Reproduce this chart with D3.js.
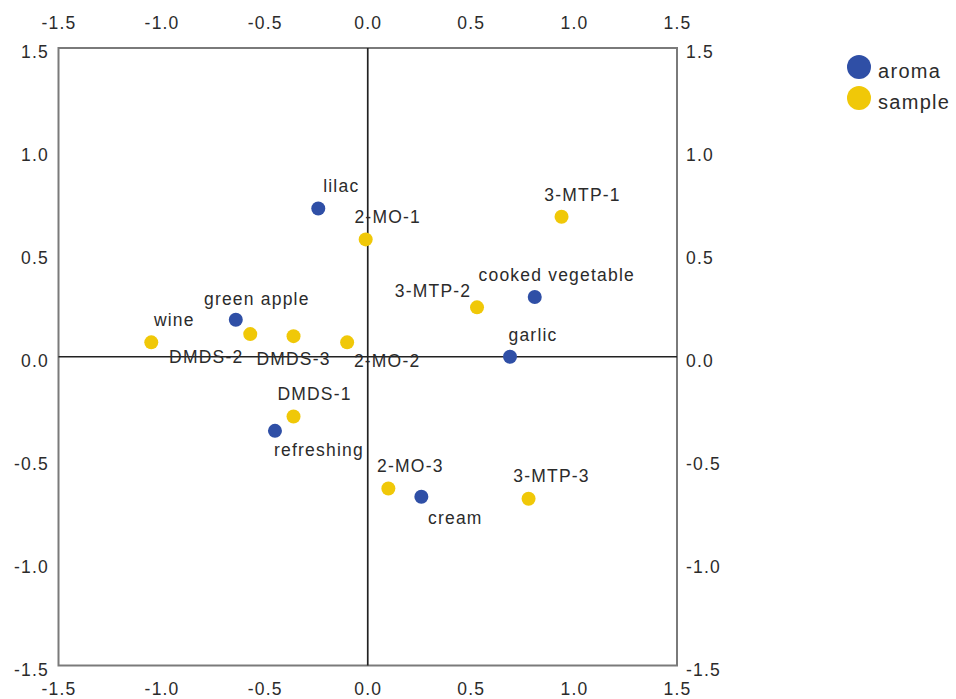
<!DOCTYPE html>
<html>
<head>
<meta charset="utf-8">
<script src="https://cdn.jsdelivr.net/npm/d3@7"></script>
<style>
  body { margin: 0; background: #fff; }
  text { font-family: "Liberation Sans", Arial, sans-serif; fill: #2b2b2b; }
</style>
</head>
<body>
<svg class="chart"></svg>
<script>

// point names, groups and coordinates (dimension 1, dimension 2)
var names = ["lilac", "2-MO-1", "3-MTP-1", "cooked vegetable", "3-MTP-2", "garlic",
             "green apple", "wine", "DMDS-2", "DMDS-3", "2-MO-2", "DMDS-1",
             "refreshing", "2-MO-3", "cream", "3-MTP-3"];
var groups = ["aroma", "sample", "sample", "aroma", "sample", "aroma",
              "aroma", "sample", "sample", "sample", "sample", "sample",
              "aroma", "sample", "aroma", "sample"];
var dim1 = [-0.24, -0.01, 0.94, 0.81, 0.53, 0.69,
            -0.64, -1.05, -0.57, -0.36, -0.10, -0.36,
            -0.45, 0.10, 0.26, 0.78];
var dim2 = [0.72, 0.57, 0.68, 0.29, 0.24, 0.00,
            0.18, 0.07, 0.11, 0.10, 0.07, -0.29,
            -0.36, -0.64, -0.68, -0.69];

var tickValues = [-1.5, -1.0, -0.5, 0.0, 0.5, 1.0, 1.5];
var legendGroups = ["aroma", "sample"];

// where each label sits relative to its point (pixels)
var labelOffset = {
  "lilac": [23, -23], "2-MO-1": [22, -23], "3-MTP-1": [21, -22],
  "cooked vegetable": [22, -22], "3-MTP-2": [-44, -16], "garlic": [23, -22],
  "green apple": [21, -21], "wine": [23, -22], "DMDS-2": [-44, 23],
  "DMDS-3": [0, 23], "2-MO-2": [40, 19], "DMDS-1": [21, -23],
  "refreshing": [44, 19], "2-MO-3": [22, -23], "cream": [34, 21],
  "3-MTP-3": [23, -23]
};

var colors = { aroma: "#2f4fa6", sample: "#f0c808" };

var data = names.map(function(n, i) {
  return { name: n, group: groups[i], x: dim1[i], y: dim2[i] };
});

var chart = d3.select('.chart')
  .attr('width', 956)
  .attr('height', 699);

var x = d3.scaleLinear().domain([-1.5, 1.5]).range([58.5, 677]);
var y = d3.scaleLinear().domain([-1.5, 1.5]).range([665.5, 48]);

var fmt = function(d) { return d3.format(".1f")(d).replace("\u2212", "-"); };

function styleAxis(g) {
  g.select('.domain').remove();
  g.selectAll('.tick line').remove();
  g.selectAll('.tick text')
    .style('font-size', '17.5px')
    .style('letter-spacing', '1.2px')
    .attr('fill', '#2b2b2b');
}

chart.append('g')
  .attr('transform', 'translate(0,' + 32 + ')')
  .call(d3.axisTop(x).tickValues(tickValues).tickFormat(fmt).tickSize(0))
  .call(styleAxis);

chart.append('g')
  .attr('transform', 'translate(0,' + 680 + ')')
  .call(d3.axisBottom(x).tickValues(tickValues).tickFormat(fmt).tickSize(0))
  .call(styleAxis);

chart.append('g')
  .attr('transform', 'translate(' + 49 + ',4)')
  .call(d3.axisLeft(y).tickValues(tickValues).tickFormat(fmt).tickSize(0).tickPadding(0))
  .call(styleAxis);

chart.append('g')
  .attr('transform', 'translate(' + 686 + ',4)')
  .call(d3.axisRight(y).tickValues(tickValues).tickFormat(fmt).tickSize(0).tickPadding(0))
  .call(styleAxis);

// frame
chart.append('rect')
  .attr('x', x(-1.5))
  .attr('y', y(1.5))
  .attr('width', x(1.5) - x(-1.5))
  .attr('height', y(-1.5) - y(1.5))
  .attr('fill', 'none')
  .attr('stroke', '#7a7a7a')
  .attr('stroke-width', 2);

// zero reference lines
chart.append('line')
  .attr('x1', x(0)).attr('x2', x(0))
  .attr('y1', y(1.5)).attr('y2', y(-1.5))
  .attr('stroke', '#222')
  .attr('stroke-width', 1.7);

chart.append('line')
  .attr('x1', x(-1.5)).attr('x2', x(1.5))
  .attr('y1', y(0)).attr('y2', y(0))
  .attr('stroke', '#222')
  .attr('stroke-width', 1.7);

// points
chart.append('g').selectAll('circle')
  .data(data)
  .enter().append('circle')
  .attr('cx', function(d) { return x(d.x); })
  .attr('cy', function(d) { return y(d.y); })
  .attr('r', 7)
  .attr('fill', function(d) { return colors[d.group]; });

// labels
chart.append('g').selectAll('text')
  .data(data)
  .enter().append('text')
  .attr('x', function(d) { return x(d.x) + labelOffset[d.name][0]; })
  .attr('y', function(d) { return y(d.y) + labelOffset[d.name][1]; })
  .attr('dy', '0.35em')
  .style('text-anchor', 'middle')
  .style('font-size', '17.5px')
  .style('letter-spacing', '1.2px')
  .text(function(d) { return d.name; });

// legend
var legend = chart.append('g').selectAll('g')
  .data(legendGroups)
  .enter().append('g')
  .attr('transform', function(d, i) { return 'translate(859,' + (67 + i * 31) + ')'; });

legend.append('circle')
  .attr('r', 12)
  .attr('fill', function(d) { return colors[d]; });

legend.append('text')
  .attr('x', 19)
  .attr('y', 4)
  .attr('dy', '0.35em')
  .style('font-size', '20px')
  .style('letter-spacing', '1.3px')
  .attr('fill', '#444')
  .text(function(d) { return d; });

</script>
</body>
</html>
